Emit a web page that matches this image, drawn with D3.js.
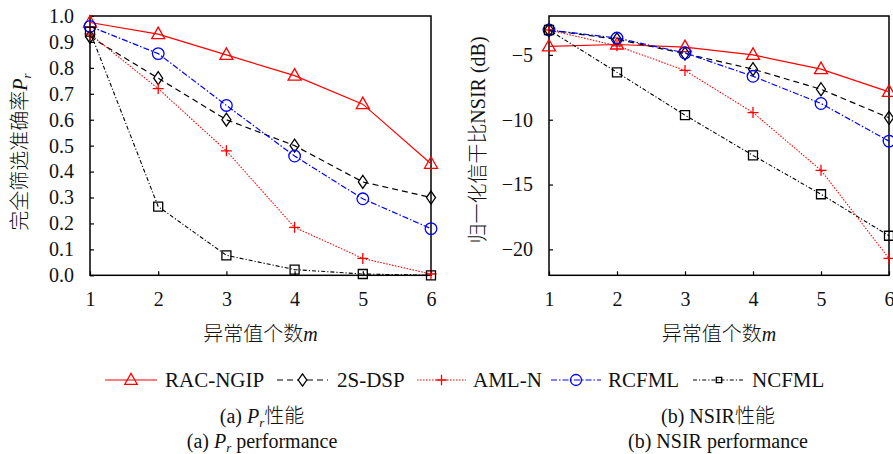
<!DOCTYPE html>
<meta charset="utf-8">
<style>
body { margin: 0; background: #fff; }
svg text { font-family: 'Liberation Serif', serif; fill: #111; }
.cjk { font-family: 'Noto Sans CJK SC', sans-serif; font-weight: 300; }
.axis line { stroke: #000; stroke-width: 1.2; }
.axis path { display: none; }
.axis text { font-size: 20px; font-family: 'Liberation Serif', serif; }
</style>
<body>
<div id="chart"></div>
<script src="https://d3js.org/d3.v7.min.js"></script>
<script>

// ---- data ----
var mValues = [1, 2, 3, 4, 5, 6];
var seriesNames = ["RAC-NGIP", "2S-DSP", "AML-N", "RCFML", "NCFML"];

// (a) perfect screening rate Pr
var prRAC   = [0.975, 0.93, 0.85, 0.77, 0.66, 0.43];
var pr2S    = [0.92, 0.76, 0.60, 0.50, 0.36, 0.30];
var prAML   = [0.93, 0.72, 0.48, 0.185, 0.065, 0.005];
var prRCFML = [0.96, 0.855, 0.655, 0.46, 0.295, 0.18];
var prNCFML = [0.94, 0.265, 0.077, 0.022, 0.005, 0.0];

// (b) NSIR in dB
var nsirRAC   = [-4.35, -4.2, -4.4, -5.0, -6.1, -7.85];
var nsir2S    = [-3.08, -3.8, -4.9, -6.1, -7.65, -9.85];
var nsirAML   = [-3.08, -4.3, -6.2, -9.45, -13.9, -20.7];
var nsirRCFML = [-3.08, -3.7, -4.85, -6.65, -8.75, -11.65];
var nsirNCFML = [-3.08, -6.35, -9.65, -12.75, -15.75, -18.95];

var prTicks = [0, 0.1, 0.2, 0.3, 0.4, 0.5, 0.6, 0.7, 0.8, 0.9, 1.0];
var nsirTicks = [-5, -10, -15, -20];

// line / marker styles per series
var styles = [
    {color: "#ff0000", dash: null,        width: 1.2, marker: "triangle"},
    {color: "#000000", dash: "6,4",       width: 1.2, marker: "diamond"},
    {color: "#ff0000", dash: "1.5,1.5",   width: 1.1, marker: "plus"},
    {color: "#0000ff", dash: "6,2,1.5,2", width: 1.2, marker: "circle"},
    {color: "#000000", dash: "4,2,1.2,2", width: 1.1, marker: "square"}
];

function markerPath(type, s) {
    s = s || 1;
    if (type == "triangle") return "M0," + (-7 * s) + "L" + (6.5 * s) + "," + (4.5 * s) + "L" + (-6.5 * s) + "," + (4.5 * s) + "Z";
    if (type == "diamond") return "M0," + (-6.5 * s) + "L" + (4.5 * s) + ",0L0," + (6.5 * s) + "L" + (-4.5 * s) + ",0Z";
    if (type == "plus") return "M" + (-5.5 * s) + ",0H" + (5.5 * s) + "M0," + (-5.5 * s) + "V" + (5.5 * s);
    if (type == "square") return "M" + (-4.5 * s) + "," + (-4.5 * s) + "H" + (4.5 * s) + "V" + (4.5 * s) + "H" + (-4.5 * s) + "Z";
    var r = 5.8 * s;
    return "M" + r + ",0A" + r + "," + r + " 0 1,1 " + (-r) + ",0A" + r + "," + r + " 0 1,1 " + r + ",0Z";
}

var svg = d3.select("#chart").append("svg")
    .attr("width", 893)
    .attr("height", 454);

svg.append("rect").attr("width", 893).attr("height", 454).style("fill", "#fff");

// mixed text helper: parts = [[text, kind]], kind: "cjk" | "it" | "sub" | null
function mixedText(sel, parts) {
    parts.forEach(function(p) {
        var t = sel.append("tspan").text(p[0]);
        if (p[1] == "cjk") t.attr("class", "cjk");
        if (p[1] == "it") t.style("font-style", "italic");
        if (p[1] == "sub") t.attr("dy", 4).style("font-size", "13px").style("font-style", "italic");
        if (p[1] == "unsub") t.attr("dy", -4);
        if (p[1] == "unsubcjk") t.attr("dy", -4).attr("class", "cjk");
    });
    return sel;
}

function drawPanel(left, width, yDomain, yTicks, yFormat, series) {
    var top = 16, height = 259.3;
    var x = d3.scaleLinear().domain([1, 6]).range([0, width]);
    var y = d3.scaleLinear().domain(yDomain).range([height, 0]);

    var g = svg.append("g").attr("transform", "translate(" + left + "," + top + ")");

    // x axis (ticks inward)
    g.append("g")
        .attr("class", "axis")
        .attr("transform", "translate(0," + height + ")")
        .call(d3.axisBottom(x).tickValues(mValues).tickFormat(d3.format("d"))
            .tickSizeInner(-4).tickSizeOuter(0).tickPadding(17));

    // y axis (ticks inward)
    g.append("g")
        .attr("class", "axis")
        .call(d3.axisLeft(y).tickValues(yTicks).tickFormat(yFormat)
            .tickSizeInner(-4).tickSizeOuter(0).tickPadding(16));

    // frame
    g.append("rect")
        .attr("width", width)
        .attr("height", height)
        .style("fill", "none")
        .style("stroke", "#000")
        .style("stroke-width", 1.5);

    var line = d3.line()
        .x(function(d, i) { return x(mValues[i]); })
        .y(function(d) { return y(d); });

    series.forEach(function(vals, k) {
        var st = styles[k];
        g.append("path")
            .datum(vals)
            .attr("d", line)
            .style("fill", "none")
            .style("stroke", st.color)
            .style("stroke-width", st.width)
            .style("stroke-dasharray", st.dash);

        g.selectAll(".mk" + k)
            .data(vals)
            .enter().append("path")
            .attr("class", "mk" + k)
            .attr("transform", function(d, i) { return "translate(" + x(mValues[i]) + "," + y(d) + ")"; })
            .attr("d", markerPath(st.marker))
            .style("fill", "none")
            .style("stroke", st.color)
            .style("stroke-width", 1.3);
    });

    // x label
    var xl = g.append("text")
        .attr("x", width / 2)
        .attr("y", height + 66)
        .attr("text-anchor", "middle")
        .style("font-size", "20px");
    mixedText(xl, [["异常值个数", "cjk"], ["m", "it"]]);
    return g;
}

var minusFmt = function(d) { return String(d).replace("-", "\u2212"); };

drawPanel(90, 341, [0, 1], prTicks, d3.format(".1f"),
    [prRAC, pr2S, prAML, prRCFML, prNCFML]);
drawPanel(549, 340, [-22, -2], nsirTicks, minusFmt,
    [nsirRAC, nsir2S, nsirAML, nsirRCFML, nsirNCFML]);

// y labels
var yl1 = svg.append("text")
    .attr("transform", "translate(27,152) rotate(-90)")
    .attr("text-anchor", "middle")
    .style("font-size", "20px");
mixedText(yl1, [["完全筛选准确率", "cjk"], ["P", "it"], ["r", "sub"]]);

var yl2 = svg.append("text")
    .attr("transform", "translate(485,140) rotate(-90)")
    .attr("text-anchor", "middle")
    .style("font-size", "20px");
mixedText(yl2, [["归一化信干比", "cjk"], ["NSIR (dB)", null]]);

// legend
var legendItems = [
    {x0: 105, x1: 157, xt: 165},
    {x0: 277, x1: 328, xt: 337},
    {x0: 417, x1: 466, xt: 473},
    {x0: 551, x1: 601, xt: 608},
    {x0: 693, x1: 745, xt: 752}
];
var ly = 380;
legendItems.forEach(function(it, k) {
    var st = styles[k];
    svg.append("line")
        .attr("x1", it.x0).attr("x2", it.x1)
        .attr("y1", ly).attr("y2", ly)
        .style("stroke", st.color)
        .style("stroke-width", st.width)
        .style("stroke-dasharray", st.dash);
    svg.append("path")
        .attr("transform", "translate(" + ((it.x0 + it.x1) / 2) + "," + ly + ")")
        .attr("d", markerPath(st.marker, st.marker == "square" ? 0.6 : 0.95))
        .style("fill", st.marker == "diamond" ? "#fff" : "none")
        .style("stroke", st.color)
        .style("stroke-width", 1.3);
    svg.append("text")
        .attr("x", it.xt)
        .attr("y", ly + 7)
        .style("font-size", "21px")
        .text(seriesNames[k]);
});

// captions
var c1 = svg.append("text").attr("x", 262).attr("y", 423).attr("text-anchor", "middle").style("font-size", "20px");
mixedText(c1, [["(a) ", null], ["P", "it"], ["r", "sub"], ["性能", "unsubcjk"]]);

var c2 = svg.append("text").attr("x", 262).attr("y", 448).attr("text-anchor", "middle").style("font-size", "20px");
mixedText(c2, [["(a) ", null], ["P", "it"], ["r", "sub"], [" performance", "unsub"]]);

var c3 = svg.append("text").attr("x", 718).attr("y", 423).attr("text-anchor", "middle").style("font-size", "20px");
mixedText(c3, [["(b) NSIR", null], ["性能", "cjk"]]);

svg.append("text").attr("x", 718).attr("y", 448).attr("text-anchor", "middle").style("font-size", "20px").text("(b) NSIR performance");

</script>
</body>
